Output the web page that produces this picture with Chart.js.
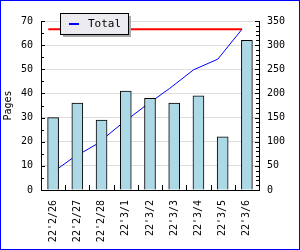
<!DOCTYPE html>
<html>
<head>
<meta charset="utf-8">
<script src="https://cdn.jsdelivr.net/npm/chart.js@4/dist/chart.umd.min.js"></script>
<style>
  body { margin: 0; background: #fff; }
  canvas { display: block; }
</style>
</head>
<body>
<canvas id="pagesChart" width="300" height="250"></canvas>
<script>
// data
const days = ["22'2/26", "22'2/27", "22'2/28", "22'3/1", "22'3/2", "22'3/3", "22'3/4", "22'3/5", "22'3/6"];
const pages = [30, 36, 29, 41, 38, 36, 39, 22, 62];
const total = [30, 66, 95, 136, 174, 210, 249, 271, 333];
const limit = [333, 333, 333, 333, 333, 333, 333, 333, 333];

Chart.defaults.font.family = "'DejaVu Sans Mono', monospace";
Chart.defaults.font.size = 10;
Chart.defaults.color = '#000';

// line points sit at the left edge of each bar
const shift = -0.2;
const toPoints = arr => arr.map((v, i) => ({ x: i + shift, y: v }));

function fixWidth(w) {
    return function(scale) { scale.width = w; };
}

// ticks pointing into the plot, page frame, and the shadowed legend box
const decorations = {
    id: 'decorations',
    beforeDraw(chart) {
        const ctx = chart.ctx;
        ctx.save();
        ctx.fillStyle = '#fff';
        ctx.fillRect(0, 0, chart.width, chart.height);
        ctx.restore();
    },
    afterDraw(chart) {
        const ctx = chart.ctx;
        const area = chart.chartArea;
        const y = chart.scales.y, y1 = chart.scales.y1, xl = chart.scales.xl;
        ctx.save();
        ctx.strokeStyle = '#000';
        ctx.lineWidth = 1;
        ctx.beginPath();
        for (let v = 0; v <= 70; v += 5) {
            const py = Math.round(y.getPixelForValue(v)) + 0.5;
            const len = v % 10 === 0 ? 4 : 3;
            ctx.moveTo(area.left, py);
            ctx.lineTo(area.left + len, py);
        }
        for (let v = 0; v <= 350; v += 10) {
            const py = Math.round(y1.getPixelForValue(v)) + 0.5;
            const len = v % 50 === 0 ? 4 : 3;
            ctx.moveTo(area.right, py);
            ctx.lineTo(area.right - len, py);
        }
        for (let i = 0; i < days.length - 1; i++) {
            const px = Math.round(xl.getPixelForValue(i + 0.5)) + 0.5;
            ctx.moveTo(px, area.bottom);
            ctx.lineTo(px, area.bottom - 5);
        }
        ctx.stroke();

        // legend
        const ds = chart.data.datasets[1];
        const lx = 60, ly = 13, lw = 68, lh = 21;
        ctx.fillStyle = '#aaaaaa';
        ctx.fillRect(lx + 3, ly + 3, lw, lh);
        ctx.fillStyle = '#ecebf0';
        ctx.fillRect(lx, ly, lw, lh);
        ctx.strokeStyle = '#000';
        ctx.strokeRect(lx + 0.5, ly + 0.5, lw, lh);
        ctx.strokeStyle = ds.borderColor;
        ctx.lineWidth = 2;
        ctx.beginPath();
        ctx.moveTo(lx + 9, ly + 11);
        ctx.lineTo(lx + 19, ly + 11);
        ctx.stroke();
        ctx.fillStyle = '#000';
        ctx.font = "11px 'DejaVu Sans Mono'";
        ctx.textBaseline = 'middle';
        ctx.fillText(ds.label, lx + 28, ly + 11);

        // page frame
        ctx.lineWidth = 1;
        ctx.strokeRect(0.5, 0.5, chart.width - 1, chart.height - 1);
        ctx.restore();
    }
};

new Chart(document.getElementById('pagesChart'), {
    data: {
        labels: days,
        datasets: [
            {
                type: 'bar',
                label: 'Pages',
                data: pages,
                backgroundColor: '#add8e6',
                borderColor: '#000',
                borderWidth: 1,
                barThickness: 11,
                grouped: false,
                yAxisID: 'y',
                order: 1
            },
            {
                type: 'line',
                label: 'Total',
                data: toPoints(total),
                borderColor: '#0000ff',
                borderWidth: 1,
                pointRadius: 0,
                tension: 0,
                xAxisID: 'xl',
                yAxisID: 'y1',
                order: 2
            },
            {
                type: 'line',
                label: 'Limit',
                data: toPoints(limit),
                borderColor: '#ff0000',
                borderWidth: 2,
                pointRadius: 0,
                xAxisID: 'xl',
                yAxisID: 'y1',
                order: 0
            }
        ]
    },
    options: {
        responsive: false,
        animation: false,
        layout: { padding: { top: 21, left: 0, right: 0, bottom: 0 } },
        plugins: {
            legend: { display: false },
            tooltip: { enabled: false }
        },
        scales: {
            x: {
                type: 'category',
                offset: true,
                grid: { display: false, drawTicks: false },
                border: { display: true, color: '#000', width: 1 },
                ticks: { minRotation: 90, maxRotation: 90, padding: 10, autoSkip: false },
                afterFit(scale) { scale.height = 60; }
            },
            xl: {
                type: 'linear',
                display: false,
                min: -0.5,
                max: days.length - 0.5
            },
            y: {
                position: 'left',
                min: 0,
                max: 70,
                ticks: { stepSize: 10, padding: 8 },
                grid: { color: '#dddddd', drawTicks: false },
                border: { display: true, color: '#000', width: 1 },
                title: { display: true, text: 'Pages', padding: { top: 2, bottom: 0 } },
                afterFit: fixWidth(41)
            },
            y1: {
                position: 'right',
                min: 0,
                max: 350,
                ticks: { stepSize: 50, padding: 8 },
                grid: { display: false, drawTicks: false },
                border: { display: true, color: '#000', width: 1 },
                afterFit: fixWidth(41)
            }
        }
    },
    plugins: [decorations]
});
</script>
</body>
</html>
